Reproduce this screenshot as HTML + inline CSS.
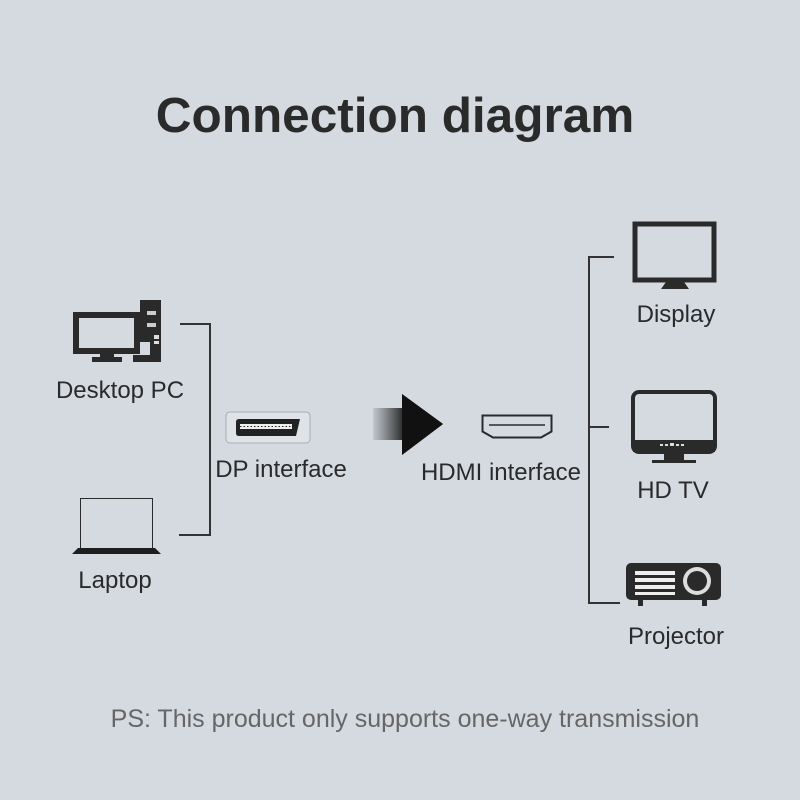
<!DOCTYPE html>
<html><head><meta charset="utf-8"><style>
html,body{margin:0;padding:0;background:#d5dae1;}
svg{display:block}
text{font-family:"Liberation Sans",Arial,sans-serif;fill:#2a2a2a}
</style></head><body>
<svg width="800" height="800" viewBox="0 0 800 800" xmlns="http://www.w3.org/2000/svg">
<defs>
<linearGradient id="ag" x1="0" x2="1" y1="0" y2="0">
<stop offset="0" stop-color="#2a2a2a" stop-opacity="0.1"/>
<stop offset="0.4" stop-color="#1a1a1a" stop-opacity="0.85"/>
<stop offset="1" stop-color="#111"/>
</linearGradient>
</defs>
<rect width="800" height="800" fill="#d5dae1"/>
<text x="395" y="132" font-size="49.5" font-weight="bold" text-anchor="middle" fill="#333">Connection diagram</text>

<!-- Desktop PC -->
<rect x="76" y="315" width="61" height="36" fill="#d5dae1" stroke="#2a2a2a" stroke-width="6"/>
<rect x="100" y="354" width="14" height="4" fill="#2a2a2a"/>
<rect x="92" y="357" width="30" height="5" fill="#2a2a2a"/>
<path d="M133 300 H161 V362 H133 V355 H150 V342 H140 V300 Z" fill="#2a2a2a"/>
<rect x="147" y="311" width="9" height="4" fill="#ccc"/>
<rect x="147" y="323" width="9" height="4" fill="#ccc"/>
<rect x="154" y="335" width="5" height="4" fill="#ddd"/>
<rect x="154" y="341" width="5" height="3" fill="#ddd"/>
<text x="120" y="398" font-size="24" text-anchor="middle">Desktop PC</text>

<!-- left bracket -->
<path d="M180 324 H210 V535 H179" fill="none" stroke="#333" stroke-width="2"/>

<!-- DP -->
<rect x="226" y="412" width="84" height="31" rx="4" fill="#dfe3e7" stroke="#a9adb2" stroke-width="1"/>
<path d="M237 419 H300 L296 436 H239 Q236 436 236 433 V422 Q236 419 239 419 Z" fill="#222"/>
<rect x="240" y="424" width="52" height="5" fill="#eee"/>
<path d="M240 426.5 H292" stroke="#222" stroke-width="1" stroke-dasharray="1.5 2"/>
<text x="281" y="477" font-size="24" text-anchor="middle">DP interface</text>

<!-- Laptop -->
<rect x="80.5" y="498.5" width="72" height="50" fill="none" stroke="#2a2a2a" stroke-width="1"/>
<path d="M78 548 H155 L161 554 H72 Z" fill="#1e1e1e"/>
<text x="115" y="588" font-size="24" text-anchor="middle">Laptop</text>

<!-- Arrow -->
<path d="M373 408 H402 V394 L443 424 L402 455 V440 H373 Z" fill="url(#ag)"/>
<path d="M402 394 L443 424 L402 455 Z" fill="#111"/>

<!-- HDMI -->
<path d="M482.5 415.5 H551.5 V431.5 L541 437.5 H493 L482.5 431.5 Z" fill="none" stroke="#2a2a2a" stroke-width="2"/>
<path d="M489 425 H545" stroke="#2a2a2a" stroke-width="1.5"/>
<text x="501" y="480" font-size="24" text-anchor="middle">HDMI interface</text>

<!-- right bracket -->
<path d="M614 257 H589 V603 H620 M589 427 H609" fill="none" stroke="#333" stroke-width="2"/>

<!-- Display -->
<rect x="635" y="224" width="79" height="56" fill="#d5dae1" stroke="#2a2a2a" stroke-width="5"/>
<path d="M666 282 H684 L689 289 H661 Z" fill="#2a2a2a"/>
<text x="676" y="322" font-size="24" text-anchor="middle">Display</text>

<!-- HD TV -->
<rect x="633" y="392" width="82" height="60" rx="6" fill="#d5dae1" stroke="#2a2a2a" stroke-width="4"/>
<rect x="633" y="440" width="82" height="12" fill="#2a2a2a"/>
<rect x="660" y="444" width="3" height="2" fill="#ddd"/><rect x="665" y="444" width="3" height="2" fill="#ddd"/><rect x="670" y="443" width="4" height="3" fill="#ddd"/><rect x="676" y="444" width="3" height="2" fill="#ddd"/><rect x="681" y="444" width="3" height="2" fill="#ddd"/>
<rect x="664" y="452" width="20" height="9" fill="#2a2a2a"/>
<rect x="652" y="460" width="44" height="3" fill="#2a2a2a"/>
<text x="673" y="498" font-size="24" text-anchor="middle">HD TV</text>

<!-- Projector -->
<rect x="626" y="563" width="95" height="37" rx="5" fill="#2a2a2a"/>
<rect x="635" y="571" width="40" height="4" fill="#eee"/>
<rect x="635" y="578" width="40" height="4" fill="#eee"/>
<rect x="635" y="585" width="40" height="4" fill="#eee"/>
<rect x="635" y="592" width="40" height="3" fill="#eee"/>
<circle cx="697" cy="581" r="14" fill="#ddd"/>
<circle cx="697" cy="581" r="10" fill="#2a2a2a"/>
<rect x="638" y="600" width="5" height="6" fill="#2a2a2a"/>
<rect x="702" y="600" width="5" height="6" fill="#2a2a2a"/>
<text x="676" y="644" font-size="24" text-anchor="middle">Projector</text>

<text x="405" y="727" font-size="25" text-anchor="middle" style="fill:#666">PS: This product only supports one-way transmission</text>
</svg>
</body></html>
